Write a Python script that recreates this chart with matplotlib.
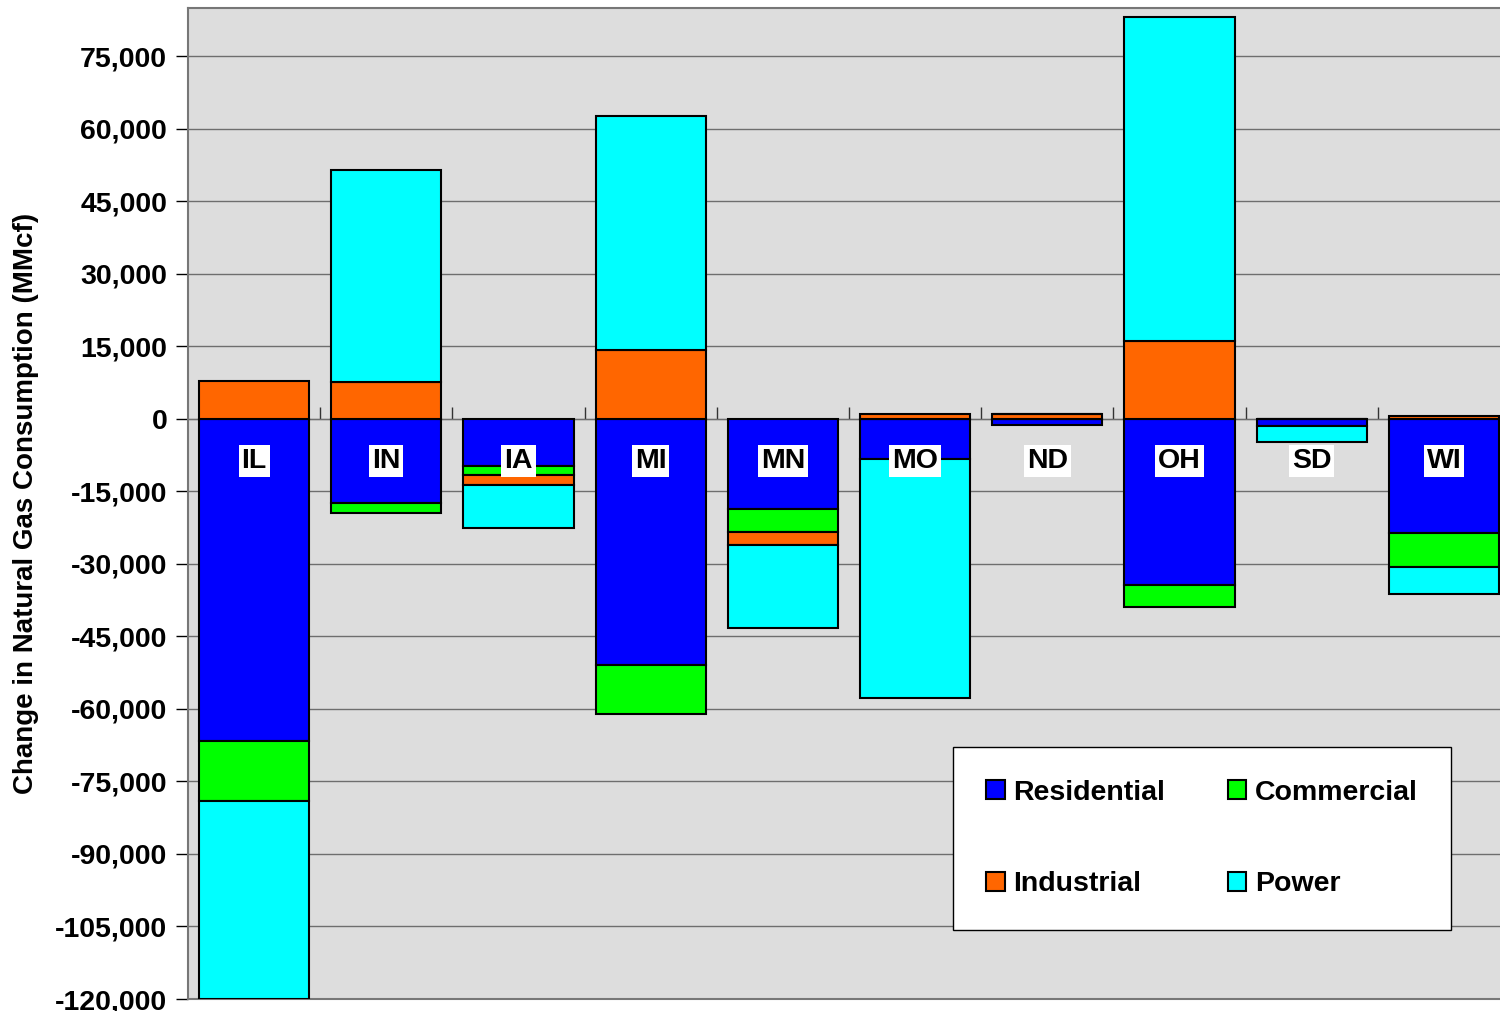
import matplotlib
matplotlib.use("Agg")
import matplotlib.pyplot as plt
from matplotlib.ticker import FuncFormatter
import numpy as np

plt.rcParams['font.family'] = ['Liberation Sans', 'DejaVu Sans']
plt.rcParams['font.weight'] = 'bold'

# Change in natural gas consumption by state and sector (MMcf)
states = ["IL", "IN", "IA", "MI", "MN", "MO", "ND", "OH", "SD", "WI"]
residential = [-66700, -17400, -9700, -50900, -18600, -8300, -1200, -34300, -1400, -23600]
commercial = [-12400, -2100, -1900, -10200, -4800, 0, 0, -4700, 0, -7000]
industrial = [7900, 7700, -2100, 14300, -2700, 1100, 1000, 16200, 0, 600]
power = [-41000, 43800, -8900, 48400, -17200, -49500, 0, 67000, -3400, -5600]

sectors = ["Residential", "Commercial", "Industrial", "Power"]
colors = ["#0000FF", "#00FF00", "#FF6600", "#00FFFF"]
series = [residential, commercial, industrial, power]

y_ticks = list(range(-120000, 75001, 15000))
y_min, y_max = -120000, 85000
fs = 20.5

fig = plt.figure(figsize=(15, 10.11), dpi=100)
ax = fig.add_axes([188 / 1500, 1 - 999 / 1011, 1322 / 1500, 991 / 1011])
ax.set_facecolor("#DDDDDD")

x = np.arange(len(states))
pos_base = np.zeros(len(states))
neg_base = np.zeros(len(states))
handles = {}
for name, vals, col in zip(sectors, series, colors):
    v = np.array(vals, dtype=float)
    bottoms = np.where(v >= 0, pos_base, neg_base)
    handles[name] = ax.bar(x, v, width=0.833, bottom=bottoms, color=col,
                           edgecolor="black", linewidth=1.5, label=name, zorder=3)
    pos_base += np.where(v >= 0, v, 0)
    neg_base += np.where(v < 0, v, 0)

ax.set_xlim(-0.5, len(states) - 0.5)
ax.set_ylim(y_min, y_max)
ax.set_yticks(y_ticks)
ax.yaxis.set_major_formatter(FuncFormatter(lambda v, p: f"{int(v):,}"))
ax.tick_params(axis="y", direction="out", length=9, width=1, labelsize=fs, pad=6)
ax.set_xticks([])
ax.grid(axis="y", color="#6E6E6E", linewidth=1, zorder=1)
ax.set_axisbelow(True)
for s in ax.spines.values():
    s.set_color("#777777")
    s.set_linewidth(1.5)

# Zero line with category separator ticks
zero_frac = (0 - y_min) / (y_max - y_min)
sec = ax.secondary_xaxis(zero_frac)
sec.set_xticks(x[:-1] + 0.5)
sec.set_xticklabels([])
sec.tick_params(direction="out", length=9, width=1, color="#333333")
sec.spines["bottom"].set_color("black")
sec.spines["bottom"].set_linewidth(1.5)
sec.spines["bottom"].set_zorder(4)

# State labels
for xi, st in zip(x, states):
    ax.text(xi, -8700, st, ha="center", va="center", fontsize=fs,
            fontweight="bold", zorder=6,
            bbox=dict(facecolor="white", edgecolor="none", pad=2))

ax.set_ylabel("Change in Natural Gas Consumption (MMcf)", fontsize=20,
              fontweight="bold")
ax.yaxis.set_label_coords(-0.113, 0.5)

# Legend laid out row-wise: Residential, Commercial / Industrial, Power
order = ["Residential", "Industrial", "Commercial", "Power"]
leg = ax.legend(handles=[handles[k] for k in order], labels=order, ncol=2,
                loc="lower left",
                bbox_to_anchor=(0.579, 0.0696, 0.376, 0.185), mode="expand",
                fontsize=fs, frameon=True, fancybox=False, framealpha=1,
                edgecolor="black", handlelength=0.65, handleheight=0.65,
                handletextpad=0.3, labelspacing=2.3, borderpad=1.15,
                columnspacing=2.0, borderaxespad=0)
leg.get_frame().set_linewidth(1)
leg.set_zorder(7)

fig.savefig("out.png", dpi=100, facecolor="white")
